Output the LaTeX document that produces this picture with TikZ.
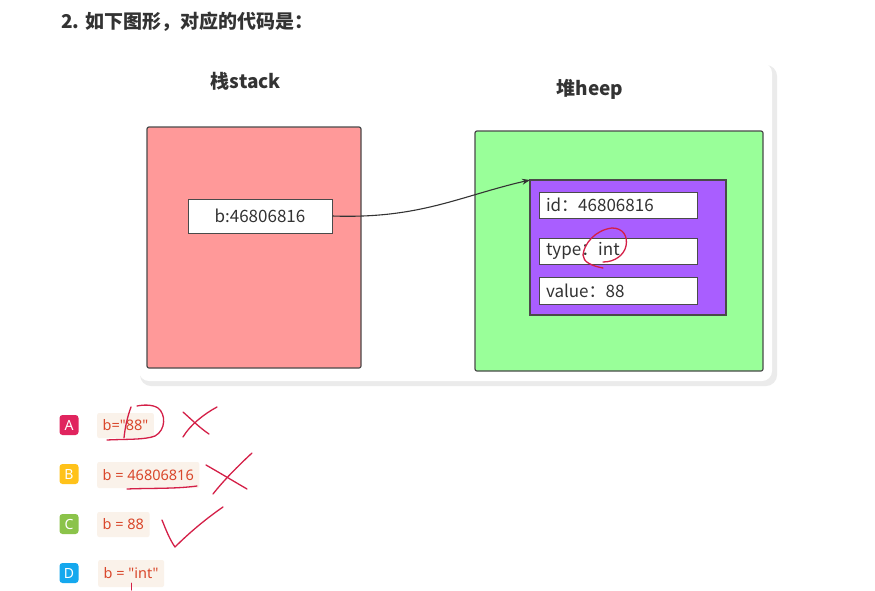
\documentclass[tikz,border=0pt]{standalone}
\usepackage{fontspec}
\setmainfont{Noto Sans CJK SC}
\newfontfamily\lat{Noto Sans}
\usetikzlibrary{arrows.meta}
\definecolor{stackred}{HTML}{FF9999}
\definecolor{heapgreen}{HTML}{99FF99}
\definecolor{objpurple}{HTML}{A95EFF}
\definecolor{boxline}{HTML}{4A4A4A}
\definecolor{txt}{HTML}{333333}
\definecolor{codebg}{HTML}{FAF2EA}
\definecolor{codered}{HTML}{D9472B}
\definecolor{pen}{HTML}{D41F47}
\definecolor{bA}{HTML}{E0245E}
\definecolor{bB}{HTML}{FFC21A}
\definecolor{bC}{HTML}{8BC34A}
\definecolor{bD}{HTML}{15A8EE}
\tikzset{
  area/.style={draw=boxline, line width=1.2pt, rounded corners=2pt},
  field/.style={draw=boxline, line width=1pt, fill=white, text=txt, font=\fontsize{17}{17}\selectfont, inner ysep=0pt, inner xsep=7pt, align=left},
  head/.style={font=\bfseries\fontsize{19}{19}\selectfont, text=txt},
  badge/.style={rounded corners=3pt, text=white, minimum width=19pt, minimum height=20pt, inner sep=0pt, font=\lat\fontsize{14}{14}\selectfont},
  code/.style={fill=codebg, rounded corners=2pt, text=codered, inner ysep=0pt, inner xsep=5.5pt, font=\lat\fontsize{14.5}{14.5}\selectfont, anchor=west},
  penline/.style={draw=pen, line width=1.3pt, line cap=round, line join=round},
}
\begin{document}
\begin{tikzpicture}[x=1pt,y=-1pt]
\useasboundingbox (0,0) rectangle (875,590);
\fill[white] (0,0) rectangle (875,590);
% title
\node[anchor=west, font=\bfseries\fontsize{19}{19}\selectfont, text=txt, inner sep=0pt] (title) at (61,22) {2. 如下图形，对应的代码是：};
% card with shadow
\fill[black!16, rounded corners=10pt] (142,67) rectangle (775,384);
\fill[black!8, rounded corners=11pt] (140,65) rectangle (777,386);
\fill[white, rounded corners=10pt] (139,63) rectangle (772,381);
% headings
\node[head] (stackhead) at (246,81) {栈stack};
\node[head] (heaphead) at (590,89) {堆heep};
% stack area
\draw[area, fill=stackred] (147,127) rectangle (361,368);
\node[field, align=center, minimum width=144pt, minimum height=34pt] (b) at (260,216) {b:46806816};
% heap area
\draw[area, fill=heapgreen] (475,131) rectangle (763,371);
\draw[draw=boxline, line width=1.2pt, fill=objpurple] (530,180) rectangle (726,315);
\coordinate (obj) at (530,180);
\node[field, text width=144pt, minimum height=26pt] (id) at (618,205) {id：46806816};
\node[field, text width=144pt, minimum height=26pt] (type) at (618,251) {type：int};
\node[field, text width=144pt, minimum height=27pt] (value) at (618,290.5) {value：88};
% arrow
\draw[line width=1.1pt, draw=black!80, -{Stealth[length=8pt,width=6pt]}] (b.east) .. controls (420,219) and (460,196) .. (obj);
% options
\node[badge, fill=bA] (A) at (69,425) {A};
\node[badge, fill=bB] (B) at (69,474) {B};
\node[badge, fill=bC] (C) at (69,524) {C};
\node[badge, fill=bD] (D) at (69,573) {D};
\node[code, minimum height=25pt] (cA) at (97,425.5) {b="88"};
\node[code, minimum height=26pt] (cB) at (97,475) {b = 46806816};
\node[code, minimum height=25pt] (cC) at (97,524.5) {b = 88};
\node[code, minimum height=27pt] (cD) at (98,573.5) {b = "int"};
% pen marks
\draw[penline] (131,407) .. controls (127,418) and (125,428) .. (124,438);
\draw[penline] (107,440) .. controls (125,439) and (145,440) .. (155,436) .. controls (166,430) and (166,414) .. (158,408) .. controls (152,404) and (142,405) .. (137,406);
\draw[penline] (183,412) .. controls (192,420) and (200,428) .. (209,434);
\draw[penline] (217,407) .. controls (204,414) and (190,425) .. (183,437);
\draw[penline] (127,489) .. controls (150,488) and (175,489) .. (197,486);
\draw[penline] (206,465) .. controls (220,473) and (235,482) .. (247,489);
\draw[penline] (252,453) .. controls (238,466) and (224,480) .. (213,494);
\draw[penline] (162,520) .. controls (166,530) and (170,540) .. (175,547) .. controls (190,532) and (207,518) .. (223,507);
\draw[penline] (603,268) .. controls (592,266) and (583,262) .. (583,255) .. controls (584,244) and (595,230) .. (612,228) .. controls (623,228) and (628,236) .. (626,246) .. controls (624,255) and (615,262) .. (603,262);
\draw[penline, line width=1pt] (131,583) -- (131,590);
\end{tikzpicture}
\end{document}
